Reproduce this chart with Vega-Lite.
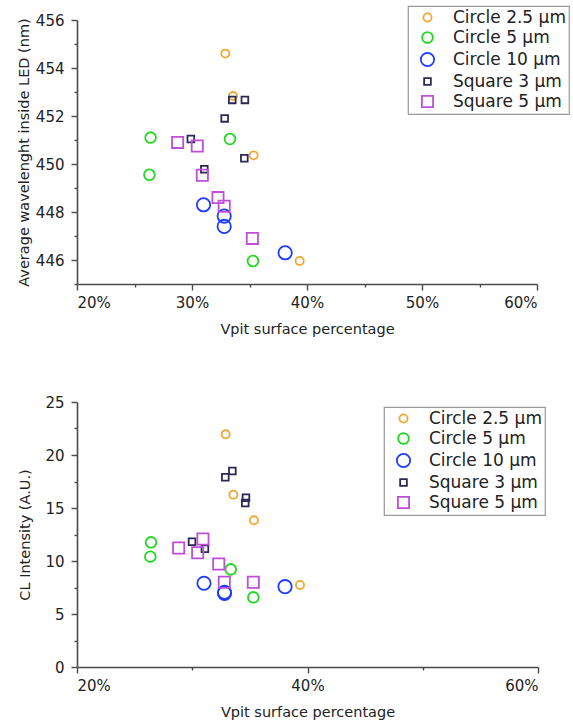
{
  "$schema": "https://vega.github.io/schema/vega-lite/v6.json",
  "padding": {"left": 16, "top": 5, "right": 5, "bottom": 5},
  "background": "white",
  "config": {
    "view": {"stroke": null},
    "font": "DejaVu Sans",
    "axis": {
      "grid": false,
      "domainColor": "#4a4a4a",
      "domainWidth": 1.6,
      "tickColor": "#4a4a4a",
      "tickWidth": 1.4,
      "labelFont": "DejaVu Sans",
      "labelFontSize": 15,
      "labelColor": "#222222",
      "titleFont": "DejaVu Sans",
      "titleFontSize": 14.5,
      "titleFontWeight": "normal",
      "titleColor": "#222222",
      "labelPadding": 5
    },
    "legend": {
      "labelFont": "DejaVu Sans",
      "labelFontSize": 17,
      "labelColor": "#222222",
      "strokeColor": "#9a9a9a",
      "strokeWidth": 1.2,
      "padding": 3,
      "rowPadding": 2,
      "symbolOffset": 8,
      "labelOffset": 17,
      "symbolStrokeWidth": 1.8,
      "symbolFillColor": "transparent"
    },
    "concat": {"spacing": 59}
  },
  "datasets": {
    "wl": [
      {"series": "Circle 2.5 µm", "vpit": 32.9, "value": 454.6},
      {"series": "Circle 2.5 µm", "vpit": 33.57, "value": 452.83},
      {"series": "Circle 2.5 µm", "vpit": 35.36, "value": 450.36},
      {"series": "Circle 2.5 µm", "vpit": 39.36, "value": 445.96},
      {"series": "Circle 5 µm", "vpit": 26.4, "value": 451.1},
      {"series": "Circle 5 µm", "vpit": 26.3, "value": 449.55},
      {"series": "Circle 5 µm", "vpit": 33.3, "value": 451.04},
      {"series": "Circle 5 µm", "vpit": 35.3, "value": 445.96},
      {"series": "Circle 10 µm", "vpit": 31.0, "value": 448.3},
      {"series": "Circle 10 µm", "vpit": 32.8, "value": 447.83},
      {"series": "Circle 10 µm", "vpit": 32.8, "value": 447.4},
      {"series": "Circle 10 µm", "vpit": 38.1, "value": 446.3},
      {"series": "Square 3 µm", "vpit": 33.5, "value": 452.67},
      {"series": "Square 3 µm", "vpit": 34.6, "value": 452.67},
      {"series": "Square 3 µm", "vpit": 32.84, "value": 451.9},
      {"series": "Square 3 µm", "vpit": 29.9, "value": 451.04},
      {"series": "Square 3 µm", "vpit": 34.55, "value": 450.24},
      {"series": "Square 3 µm", "vpit": 31.07, "value": 449.78},
      {"series": "Square 5 µm", "vpit": 28.75, "value": 450.9},
      {"series": "Square 5 µm", "vpit": 30.46, "value": 450.75},
      {"series": "Square 5 µm", "vpit": 30.9, "value": 449.53},
      {"series": "Square 5 µm", "vpit": 32.26, "value": 448.6},
      {"series": "Square 5 µm", "vpit": 32.8, "value": 448.24},
      {"series": "Square 5 µm", "vpit": 35.25, "value": 446.9}
    ],
    "cl": [
      {"series": "Circle 2.5 µm", "vpit": 32.9, "value": 21.95},
      {"series": "Circle 2.5 µm", "vpit": 33.57, "value": 16.26},
      {"series": "Circle 2.5 µm", "vpit": 35.36, "value": 13.84},
      {"series": "Circle 2.5 µm", "vpit": 39.35, "value": 7.74},
      {"series": "Circle 5 µm", "vpit": 26.42, "value": 11.76},
      {"series": "Circle 5 µm", "vpit": 26.36, "value": 10.41},
      {"series": "Circle 5 µm", "vpit": 33.34, "value": 9.21},
      {"series": "Circle 5 µm", "vpit": 35.3, "value": 6.57},
      {"series": "Circle 10 µm", "vpit": 31.02, "value": 7.9},
      {"series": "Circle 10 µm", "vpit": 32.8, "value": 7.05},
      {"series": "Circle 10 µm", "vpit": 32.8, "value": 6.95},
      {"series": "Circle 10 µm", "vpit": 38.05, "value": 7.58},
      {"series": "Square 3 µm", "vpit": 33.48, "value": 18.49},
      {"series": "Square 3 µm", "vpit": 32.87, "value": 17.9},
      {"series": "Square 3 µm", "vpit": 34.66, "value": 15.97},
      {"series": "Square 3 µm", "vpit": 34.6, "value": 15.47},
      {"series": "Square 3 µm", "vpit": 29.98, "value": 11.82},
      {"series": "Square 3 µm", "vpit": 31.1, "value": 11.16},
      {"series": "Square 5 µm", "vpit": 28.82, "value": 11.23},
      {"series": "Square 5 µm", "vpit": 30.93, "value": 12.08},
      {"series": "Square 5 µm", "vpit": 30.47, "value": 10.78},
      {"series": "Square 5 µm", "vpit": 32.3, "value": 9.72},
      {"series": "Square 5 µm", "vpit": 32.78, "value": 7.99},
      {"series": "Square 5 µm", "vpit": 35.3, "value": 7.99}
    ]
  },
  "vconcat": [
    {
      "width": 460,
      "height": 264,
      "data": {"name": "wl"},
      "mark": {"type": "point", "filled": false, "strokeWidth": 1.8, "opacity": 1},
      "encoding": {
        "x": {
          "field": "vpit", "type": "quantitative",
          "scale": {"domain": [20, 60], "nice": false, "zero": false},
          "axis": {
            "title": "Vpit surface percentage",
            "values": [20, 25, 30, 35, 40, 45, 50, 55, 60],
            "labelExpr": "datum.value % 10 == 0 ? datum.value + '%' : ''",
            "tickSize": {"condition": {"test": "datum.value % 10 != 0", "value": 3}, "value": 6},
            "titlePadding": 12
          }
        },
        "y": {
          "field": "value", "type": "quantitative",
          "scale": {"domain": [445, 456], "nice": false, "zero": false},
          "axis": {
            "title": "Average wavelenght inside LED (nm)",
            "values": [445, 446, 447, 448, 449, 450, 451, 452, 453, 454, 455, 456],
            "labelExpr": "datum.value % 2 == 0 ? datum.value : ''",
            "tickSize": {"condition": {"test": "datum.value % 2 != 0", "value": 3}, "value": 6},
            "labelPadding": 7,
            "titlePadding": 4
          }
        },
        "color": {
          "field": "series", "type": "nominal",
          "scale": {"domain": ["Circle 2.5 µm", "Circle 5 µm", "Circle 10 µm", "Square 3 µm", "Square 5 µm"],
                    "range": ["#F0A830", "#22D822", "#1E3CFF", "#2B2A55", "#C04FD8"]},
          "legend": {"title": null, "orient": "none", "legendX": 331, "legendY": -14}
        },
        "shape": {
          "field": "series", "type": "nominal",
          "scale": {"domain": ["Circle 2.5 µm", "Circle 5 µm", "Circle 10 µm", "Square 3 µm", "Square 5 µm"],
                    "range": ["circle", "circle", "circle", "square", "square"]},
          "legend": {"title": null, "orient": "none", "legendX": 331, "legendY": -14}
        },
        "size": {
          "field": "series", "type": "nominal",
          "scale": {"type": "ordinal", "domain": ["Circle 2.5 µm", "Circle 5 µm", "Circle 10 µm", "Square 3 µm", "Square 5 µm"],
                    "range": [66, 115, 177, 45, 125]},
          "legend": {"title": null, "orient": "none", "legendX": 331, "legendY": -14}
        }
      }
    },
    {
      "width": 461,
      "height": 265,
      "data": {"name": "cl"},
      "mark": {"type": "point", "filled": false, "strokeWidth": 1.8, "opacity": 1},
      "encoding": {
        "x": {
          "field": "vpit", "type": "quantitative",
          "scale": {"domain": [20, 60], "nice": false, "zero": false},
          "axis": {
            "title": "Vpit surface percentage",
            "values": [20, 30, 40, 50, 60],
            "labelExpr": "datum.value % 20 == 0 ? datum.value + '%' : ''",
            "tickSize": {"condition": {"test": "datum.value % 20 != 0", "value": 3}, "value": 6},
            "titlePadding": 12
          }
        },
        "y": {
          "field": "value", "type": "quantitative",
          "scale": {"domain": [0, 25], "nice": false, "zero": false},
          "axis": {
            "title": "CL Intensity (A.U.)",
            "values": [0, 2.5, 5, 7.5, 10, 12.5, 15, 17.5, 20, 22.5, 25],
            "labelExpr": "datum.value % 5 == 0 ? datum.value : ''",
            "tickSize": {"condition": {"test": "datum.value % 5 != 0", "value": 3}, "value": 6},
            "labelPadding": 7,
            "titlePadding": 12
          }
        },
        "color": {
          "field": "series", "type": "nominal",
          "scale": {"domain": ["Circle 2.5 µm", "Circle 5 µm", "Circle 10 µm", "Square 3 µm", "Square 5 µm"],
                    "range": ["#F0A830", "#22D822", "#1E3CFF", "#2B2A55", "#C04FD8"]},
          "legend": {"title": null, "orient": "none", "legendX": 307, "legendY": 5}
        },
        "shape": {
          "field": "series", "type": "nominal",
          "scale": {"domain": ["Circle 2.5 µm", "Circle 5 µm", "Circle 10 µm", "Square 3 µm", "Square 5 µm"],
                    "range": ["circle", "circle", "circle", "square", "square"]},
          "legend": {"title": null, "orient": "none", "legendX": 307, "legendY": 5}
        },
        "size": {
          "field": "series", "type": "nominal",
          "scale": {"type": "ordinal", "domain": ["Circle 2.5 µm", "Circle 5 µm", "Circle 10 µm", "Square 3 µm", "Square 5 µm"],
                    "range": [66, 115, 177, 45, 125]},
          "legend": {"title": null, "orient": "none", "legendX": 307, "legendY": 5}
        }
      }
    }
  ],
  "resolve": {"scale": {"color": "independent", "shape": "independent", "size": "independent"}, "legend": {"color": "independent", "shape": "independent", "size": "independent"}}
}
